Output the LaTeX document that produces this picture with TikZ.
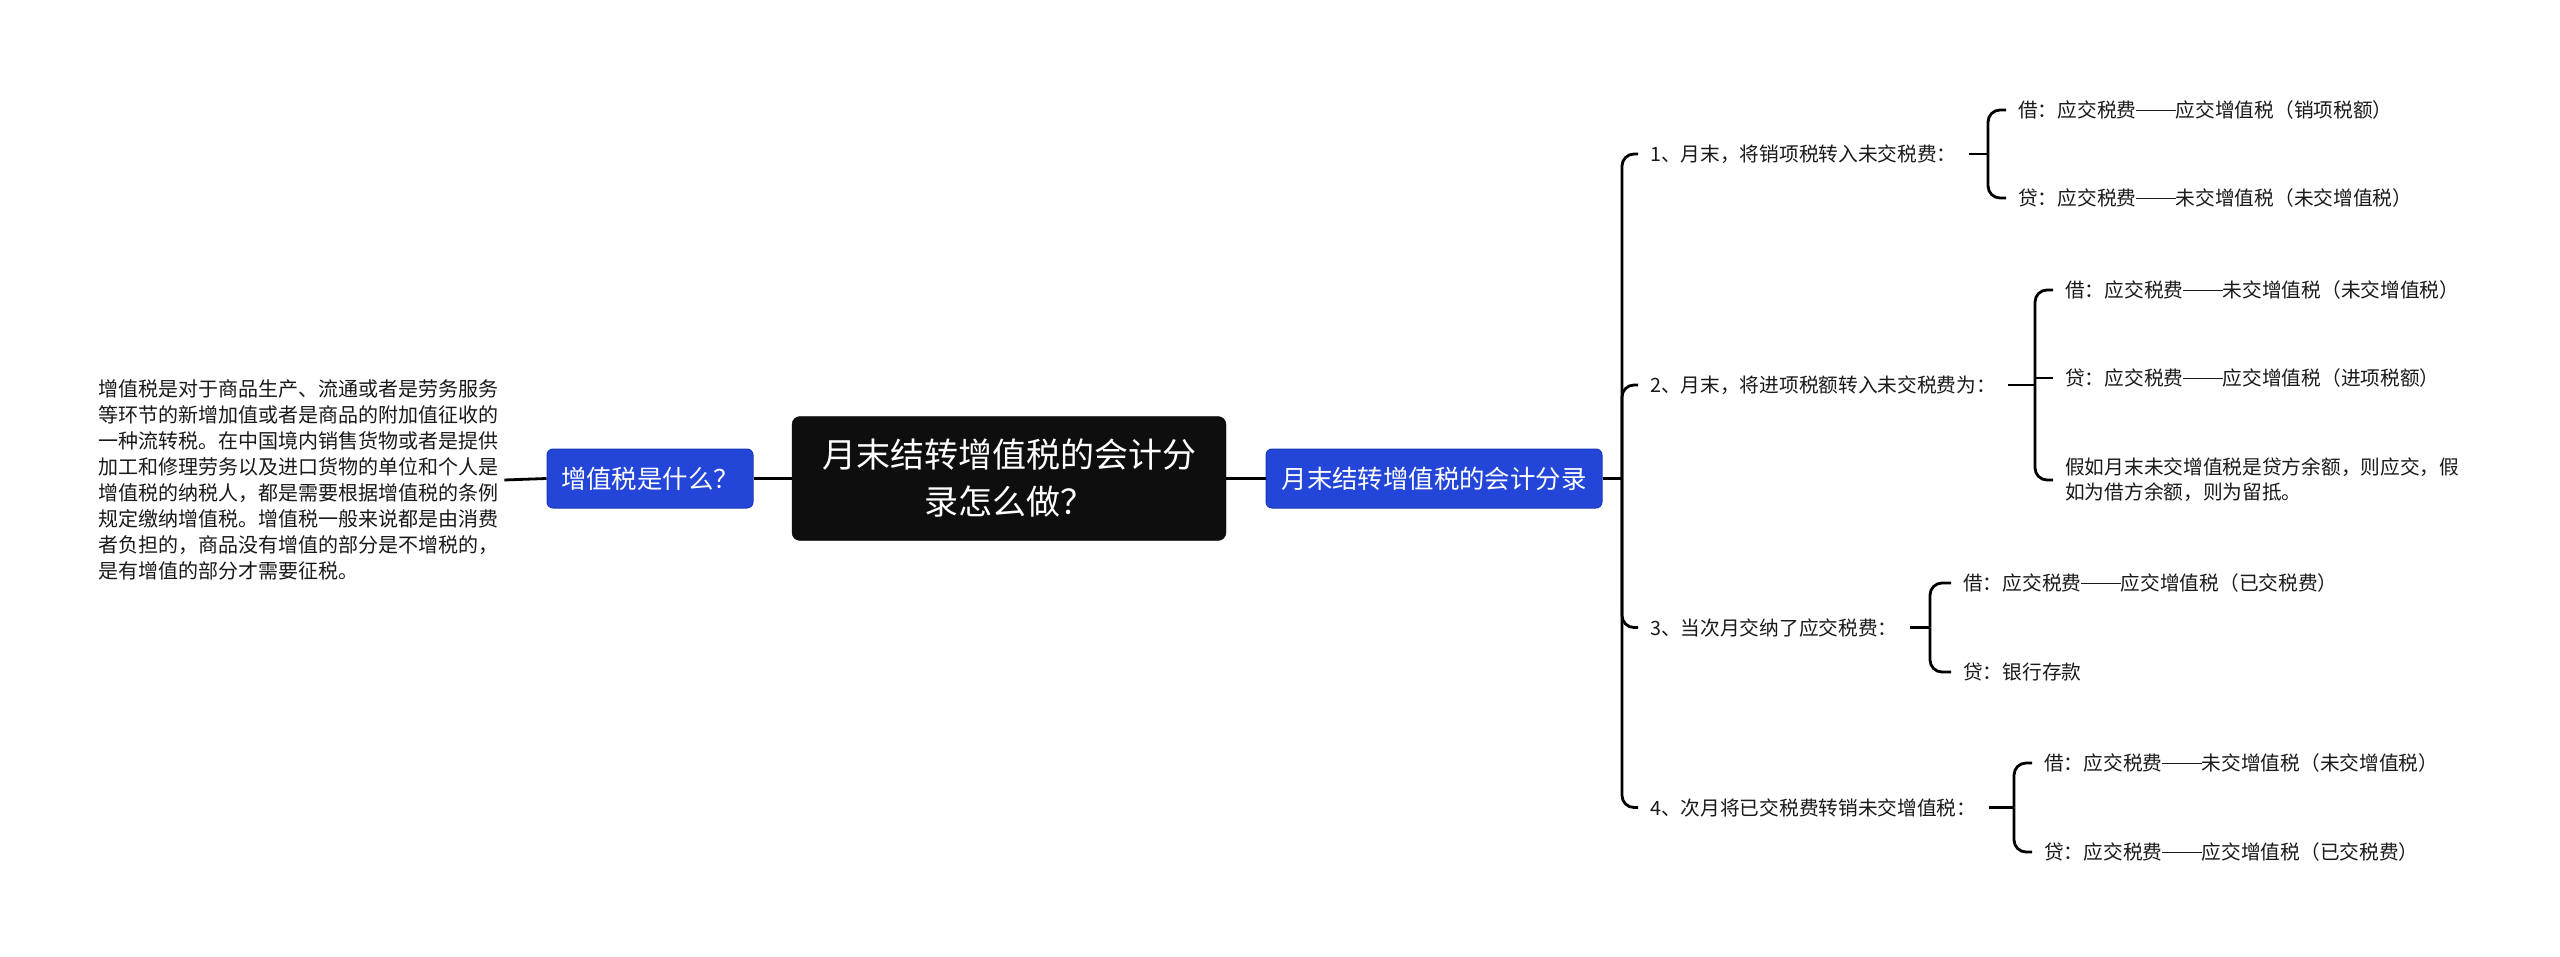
\documentclass[tikz,border=0pt]{standalone}
\usepackage{fontspec}
\setmainfont{Noto Sans CJK SC}
\definecolor{myblue}{HTML}{2446D8}
\definecolor{myblueborder}{HTML}{1C38B8}
\definecolor{rootfill}{HTML}{0E0E0E}
\definecolor{leaftext}{HTML}{1A1A1A}
\newcommand\zzdash{\rule[0.33em]{2em}{0.06em}}
\begin{document}
\begin{tikzpicture}[x=1pt,y=-1pt,
  conn/.style={draw=black,line width=2.8pt},
  brk/.style={draw=black,line width=2.8pt,rounded corners=12pt},
  rootbox/.style={fill=rootfill,draw=rootfill,rounded corners=8pt,text=white,
    font=\fontsize{34}{47}\selectfont,align=center,inner sep=0pt,
    minimum width=434pt,minimum height=124pt},
  bluebox/.style={fill=myblue,draw=myblueborder,line width=1pt,rounded corners=6pt,
    text=white,font=\fontsize{25.4}{30}\selectfont,minimum height=59pt,inner sep=0pt},
  leaf/.style={text=leaftext,font=\fontsize{19.7}{25}\selectfont,align=left,
    inner xsep=12pt,inner ysep=2pt,anchor=west},
  desc/.style={text=leaftext,font=\fontsize{20}{26}\selectfont,align=left,
    inner xsep=6pt,inner ysep=2pt,anchor=west}
]
\useasboundingbox (0,0) rectangle (2560,957);
\fill[white] (0,0) rectangle (2560,957);

% central and first level
\node[rootbox] (root) at (1009,478.5) {月末结转增值税的会计分\\录怎么做？};
\node[bluebox,minimum width=206pt] (lb) at (650,478.5) {增值税是什么？};
\node[bluebox,minimum width=336pt] (rb) at (1434,478.5) {月末结转增值税的会计分录};

\node[desc] (lt) at (92,480) {增值税是对于商品生产、流通或者是劳务服务\\等环节的新增加值或者是商品的附加值征收的\\一种流转税。在中国境内销售货物或者是提供\\加工和修理劳务以及进口货物的单位和个人是\\增值税的纳税人，都是需要根据增值税的条例\\规定缴纳增值税。增值税一般来说都是由消费\\者负担的，商品没有增值的部分是不增税的，\\是有增值的部分才需要征税。};

\draw[conn] (root.west) -- (lb.east);
\draw[conn] (lt.east) -- (lb.west);
\draw[conn] (root.east) -- (rb.west);
\coordinate (sp) at (1622,478.5);
\draw[conn] (rb.east) -- (sp);

% second level
\node[leaf] (a1) at (1638,154) {1、月末，将销项税转入未交税费：};
\node[leaf] (a2) at (1638,385) {2、月末，将进项税额转入未交税费为：};
\node[leaf] (a3) at (1638,627.5) {3、当次月交纳了应交税费：};
\node[leaf] (a4) at (1638,807.5) {4、次月将已交税费转销未交增值税：};

\foreach \n in {a1,a2,a3,a4} {\draw[brk] (sp) |- (\n.west);}

% group 1
\node[leaf] (a1x) at (2006,110) {借：应交税费\zzdash 应交增值税（销项税额）};
\node[leaf] (a1y) at (2006,198) {贷：应交税费\zzdash 未交增值税（未交增值税）};
\coordinate (k1) at (1988,154);
\draw[conn] (a1.east) -- (k1);
\draw[brk] (k1) |- (a1x.west);
\draw[brk] (k1) |- (a1y.west);

% group 2
\node[leaf] (a2x) at (2053,290) {借：应交税费\zzdash 未交增值税（未交增值税）};
\node[leaf] (a2y) at (2053,378) {贷：应交税费\zzdash 应交增值税（进项税额）};
\node[leaf] (a2z) at (2053,480) {假如月末未交增值税是贷方余额，则应交，假\\如为借方余额，则为留抵。};
\coordinate (k2) at (2035,385);
\draw[conn] (a2.east) -- (k2);
\draw[brk] (k2) |- (a2x.west);
\draw[conn] (k2 |- a2y.west) -- (a2y.west);
\draw[brk] (k2) |- (a2z.west);

% group 3
\node[leaf] (a3x) at (1951,583) {借：应交税费\zzdash 应交增值税（已交税费）};
\node[leaf] (a3y) at (1951,672) {贷：银行存款};
\coordinate (k3) at (1930,627.5);
\draw[conn] (a3.east) -- (k3);
\draw[brk] (k3) |- (a3x.west);
\draw[brk] (k3) |- (a3y.west);

% group 4
\node[leaf] (a4x) at (2032,763) {借：应交税费\zzdash 未交增值税（未交增值税）};
\node[leaf] (a4y) at (2032,852) {贷：应交税费\zzdash 应交增值税（已交税费）};
\coordinate (k4) at (2014,807.5);
\draw[conn] (a4.east) -- (k4);
\draw[brk] (k4) |- (a4x.west);
\draw[brk] (k4) |- (a4y.west);
\end{tikzpicture}
\end{document}
